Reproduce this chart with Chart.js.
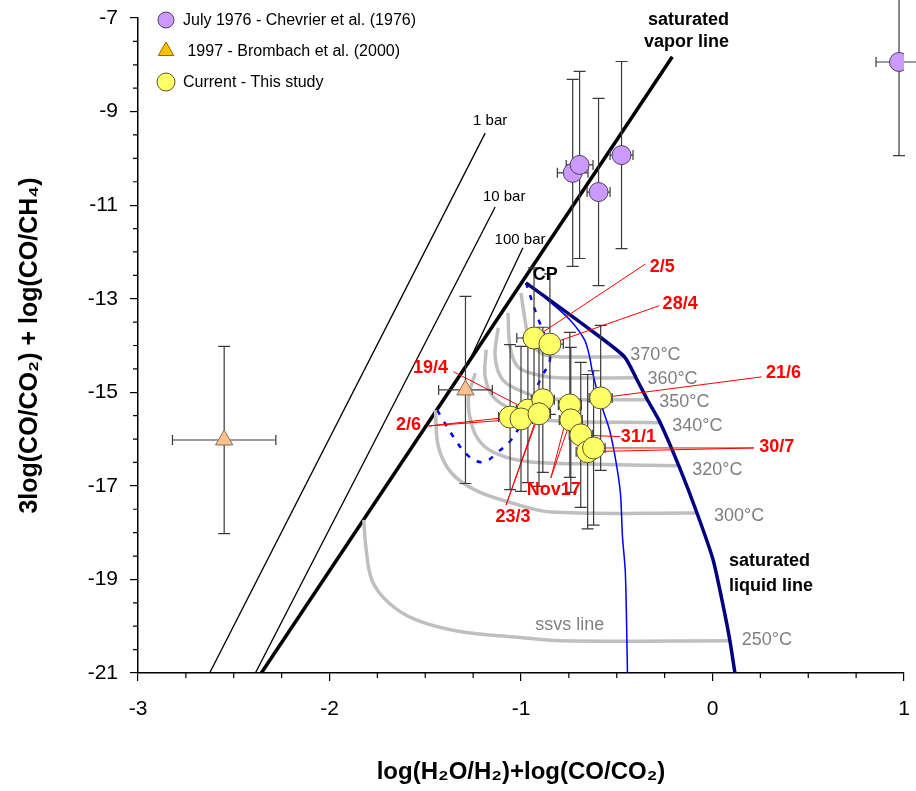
<!DOCTYPE html>
<html>
<head>
<meta charset="utf-8">
<script src="https://cdn.jsdelivr.net/npm/chart.js@4.4.1/dist/chart.umd.min.js"></script>
<style>
  html, body { margin: 0; padding: 0; background: #fff; }
  #wrap { width: 916px; height: 791px; position: relative; }
</style>
</head>
<body>
<div id="wrap"><canvas id="gasChart"></canvas></div>
<script>
// July 1976 - Chevrier et al.
const chevX = [-0.730, -0.694, -0.595, -0.475, 0.974];
const chevY = [-10.31, -10.14, -10.72, -9.93, -7.94];
const chevErrX = [0.08, 0.07, 0.06, 0.06, 0.12];
const chevErrY = [2, 2, 2, 2, 2];

// 1997 - Brombach et al.
const bromX = [-2.55, -1.29];
const bromY = [-16.02, -14.95];
const bromErrX = [0.27, 0.14];
const bromErrY = [2, 2];

// this study (drawn in this order, later ones on top)
const curDate = ['19/4', '23/3', '2/6', '2/6', '23/3', 'Nov17', 'Nov17', '21/6', '31/1', '30/7', '30/7', '2/5', '28/4'];
const curX = [-0.964, -0.886, -1.057, -1.000, -0.906, -0.745, -0.740, -0.584, -0.688, -0.652, -0.621, -0.932, -0.849];
const curY = [-15.38, -15.16, -15.53, -15.57, -15.46, -15.27, -15.59, -15.12, -15.91, -16.27, -16.19, -13.84, -13.97];
const curErrX = [0.06, 0.06, 0.06, 0.06, 0.06, 0.06, 0.06, 0.06, 0.06, 0.06, 0.06, 0.09, 0.07];
const curErrY = [1.55, 1.55, 1.55, 1.55, 1.55, 1.55, 1.55, 1.55, 1.55, 1.65, 1.65, 1.5, 1.5];

// date labels and where their leader lines start
const dateNames = ['2/5', '28/4', '19/4', '2/6', '23/3', 'Nov17', '21/6', '31/1', '30/7'];
const dateTextX = [-0.262, -0.169, -1.473, -1.587, -1.042, -0.829, 0.371, -0.387, 0.335];
const dateTextY = [-12.32, -13.11, -14.48, -15.70, -17.66, -17.09, -14.59, -15.95, -16.17];
const leadX = [-0.351, -0.278, -1.353, -1.483, -1.078, -0.844, 0.257, -0.481, 0.216];
const leadY = [-12.26, -13.15, -14.56, -15.72, -17.41, -16.83, -14.67, -15.95, -16.19];

// pressure lines and saturated vapor line
const bar1X = [-2.626, -1.187];
const bar1Y = [-21, -9.46];
const bar10X = [-2.387, -1.135];
const bar10Y = [-21, -11.04];
const bar100X = [-2.356, -1.275, -0.990];
const bar100Y = [-21, -14.37, -11.91];
const vapX = [-2.356, -0.210];
const vapY = [-21, -7.83];

// saturated liquid line
const liqX = [-0.974, -0.636, -0.460, -0.397, -0.340, -0.273, -0.174, -0.081, 0.003, 0.060, 0.091, 0.117];
const liqY = [-12.66, -13.67, -14.24, -14.71, -15.16, -15.65, -16.59, -17.58, -18.58, -19.65, -20.31, -21.0];

// blue solid and dashed curves
const blueX = [-0.974, -0.860, -0.745, -0.668, -0.642, -0.626, -0.584, -0.538, -0.506, -0.481, -0.470, -0.455, -0.444];
const blueY = [-12.66, -13.03, -13.45, -13.88, -14.24, -14.59, -15.23, -15.80, -16.44, -17.15, -18.09, -18.86, -21.0];
const dashX = [-0.974, -0.922, -0.870, -0.849, -0.896, -0.932, -0.990, -1.052, -1.119, -1.197, -1.275, -1.353, -1.416, -1.452];
const dashY = [-12.66, -13.30, -13.88, -14.31, -14.69, -15.06, -15.59, -16.02, -16.27, -16.49, -16.36, -15.95, -15.53, -15.27];

// isotherms
const iso370X = [-1.000, -0.979, -0.953, -0.886, -0.808, -0.460];
const iso370Y = [-12.88, -13.45, -13.92, -14.18, -14.24, -14.24];
const iso360X = [-1.068, -1.057, -1.016, -0.912, -0.808, -0.397];
const iso360Y = [-13.30, -14.03, -14.46, -14.63, -14.69, -14.69];
const iso350X = [-1.119, -1.135, -1.094, -0.979, -0.860, -0.340];
const iso350Y = [-13.62, -14.24, -14.74, -15.01, -15.14, -15.16];
const iso340X = [-1.182, -1.187, -1.145, -1.042, -0.886, -0.273];
const iso340Y = [-14.09, -14.67, -15.10, -15.38, -15.59, -15.65];
const iso320X = [-1.239, -1.275, -1.249, -1.187, -1.083, -0.948, -0.704, -0.174];
const iso320Y = [-14.59, -15.16, -15.80, -16.17, -16.38, -16.49, -16.53, -16.57];
const iso300X = [-1.447, -1.431, -1.364, -1.239, -1.052, -0.844, -0.081];
const iso300Y = [-15.38, -16.17, -16.72, -17.09, -17.36, -17.56, -17.58];
const iso250X = [-1.821, -1.810, -1.779, -1.691, -1.551, -1.312, -1.031, -0.792, 0.091];
const iso250Y = [-17.73, -18.30, -19.01, -19.50, -19.86, -20.12, -20.23, -20.31, -20.31];

const tempNames = ['370°C', '360°C', '350°C', '340°C', '320°C', '300°C', '250°C'];
const tempLabelX = [-0.429, -0.340, -0.278, -0.210, -0.106, 0.008, 0.153];
const tempLabelY = [-14.20, -14.71, -15.21, -15.72, -16.66, -17.64, -20.29];

const barNames = ['1 bar', '10 bar', '100 bar'];
const barLabelX = [-1.161, -1.088, -1.005];
const barLabelY = [-9.20, -10.82, -11.74];

const FONT = '"Liberation Sans", Arial, sans-serif';

function pts(xs, ys) {
  return xs.map((x, i) => ({ x, y: ys[i] }));
}

function curve(xs, ys, style) {
  return Object.assign({
    data: pts(xs, ys),
    showLine: true,
    pointRadius: 0,
    pointHoverRadius: 0,
    fill: false
  }, style);
}

const isoSets = [
  [iso370X, iso370Y], [iso360X, iso360Y], [iso350X, iso350Y], [iso340X, iso340Y],
  [iso320X, iso320Y], [iso300X, iso300Y], [iso250X, iso250Y]
];

const leaderSets = curX.map((px, i) => {
  const k = dateNames.indexOf(curDate[i]);
  return curve([leadX[k], px], [leadY[k], curY[i]], { borderColor: '#ff0000', borderWidth: 1, order: 1 });
});

const datasets = [
  {
    label: 'July 1976 - Chevrier et al. (1976)',
    data: pts(chevX, chevY),
    errX: chevErrX, errY: chevErrY,
    pointStyle: 'circle', pointRadius: 9.5,
    backgroundColor: '#cc99ff', borderColor: '#4d3f5e', borderWidth: 1,
    order: 0
  },
  {
    label: ' 1997 - Brombach et al. (2000)',
    data: pts(bromX, bromY),
    errX: bromErrX, errY: bromErrY,
    pointStyle: 'triangle', pointRadius: 10,
    backgroundColor: '#fac090', borderColor: '#8c6b4f', borderWidth: 1,
    order: 0
  },
  {
    label: 'Current - This study',
    data: pts(curX, curY),
    errX: curErrX, errY: curErrY,
    pointStyle: 'circle', pointRadius: 11,
    backgroundColor: '#ffff66', borderColor: '#55552e', borderWidth: 1,
    order: 0
  },
  ...leaderSets,
  curve(liqX, liqY, { borderColor: '#000080', borderWidth: 3.5, tension: 0.2, order: 2 }),
  curve(blueX, blueY, { borderColor: '#0000ff', borderWidth: 1.5, tension: 0.3, order: 3 }),
  curve(dashX, dashY, { borderColor: '#0000ff', borderWidth: 2.5, borderDash: [5, 8], tension: 0.4, order: 3 }),
  ...isoSets.map(([xs, ys]) => curve(xs, ys, { borderColor: '#bfbfbf', borderWidth: 3.5, tension: 0.35, order: 4 })),
  curve(vapX, vapY, { borderColor: '#000', borderWidth: 3.5, order: 5 }),
  curve(bar1X, bar1Y, { borderColor: '#000', borderWidth: 1.3, order: 6 }),
  curve(bar10X, bar10Y, { borderColor: '#000', borderWidth: 1.3, order: 6 }),
  curve(bar100X, bar100Y, { borderColor: '#000', borderWidth: 1.3, order: 6 })
];

const errorBars = {
  id: 'errorBars',
  beforeDatasetDraw(chart, args) {
    const ds = chart.data.datasets[args.index];
    if (!ds.errX) return;
    const { ctx, scales: { x, y } } = chart;
    ctx.save();
    ctx.strokeStyle = '#3a3a3a';
    ctx.lineWidth = 1.2;
    ds.data.forEach((p, i) => {
      const px = x.getPixelForValue(p.x), py = y.getPixelForValue(p.y);
      const x0 = x.getPixelForValue(p.x - ds.errX[i]), x1 = x.getPixelForValue(p.x + ds.errX[i]);
      const y0 = y.getPixelForValue(p.y + ds.errY[i]), y1 = y.getPixelForValue(p.y - ds.errY[i]);
      ctx.beginPath();
      ctx.moveTo(x0, py); ctx.lineTo(x1, py);
      ctx.moveTo(x0, py - 5); ctx.lineTo(x0, py + 5);
      ctx.moveTo(x1, py - 5); ctx.lineTo(x1, py + 5);
      ctx.moveTo(px, y0); ctx.lineTo(px, y1);
      ctx.moveTo(px - 6, y0); ctx.lineTo(px + 6, y0);
      ctx.moveTo(px - 6, y1); ctx.lineTo(px + 6, y1);
      ctx.stroke();
    });
    ctx.restore();
  }
};

const minorTicks = {
  id: 'minorTicks',
  afterDraw(chart) {
    const { ctx, scales: { x, y }, chartArea } = chart;
    ctx.save();
    ctx.strokeStyle = '#000';
    ctx.lineWidth = 1.2;
    ctx.beginPath();
    for (let v = -3; v <= 1.001; v += 0.25) {
      if (Math.abs(v - Math.round(v)) < 0.01) continue;
      const px = x.getPixelForValue(v);
      ctx.moveTo(px, chartArea.bottom); ctx.lineTo(px, chartArea.bottom + 5);
    }
    for (let v = -21; v <= -7.001; v += 0.5) {
      if (Math.abs((v + 21) / 2 - Math.round((v + 21) / 2)) < 0.01) continue;
      const py = y.getPixelForValue(v);
      ctx.moveTo(chartArea.left, py); ctx.lineTo(chartArea.left - 5, py);
    }
    ctx.stroke();
    ctx.restore();
  }
};

const notes = {
  id: 'notes',
  afterDatasetsDraw(chart) {
    const { ctx, scales: { x, y } } = chart;
    const put = (str, vx, vy, align, font, color) => {
      ctx.save();
      ctx.font = font;
      ctx.fillStyle = color;
      ctx.textAlign = align;
      ctx.textBaseline = 'middle';
      ctx.fillText(str, x.getPixelForValue(vx), y.getPixelForValue(vy));
      ctx.restore();
    };
    tempNames.forEach((t, i) => put(t, tempLabelX[i], tempLabelY[i], 'left', '18px ' + FONT, '#808080'));
    put('ssvs line', -0.745, -19.97, 'center', '18px ' + FONT, '#808080');
    dateNames.forEach((t, i) => put(t, dateTextX[i], dateTextY[i], 'center', 'bold 18px ' + FONT, '#ff0000'));
    barNames.forEach((t, i) => put(t, barLabelX[i], barLabelY[i], 'center', '15px ' + FONT, '#000'));
    put('CP', -0.938, -12.49, 'left', 'bold 18px ' + FONT, '#000');
    put('saturated', 0.086, -7.04, 'right', 'bold 18px ' + FONT, '#000');
    put('vapor line', 0.086, -7.51, 'right', 'bold 18px ' + FONT, '#000');
    put('saturated', 0.086, -18.60, 'left', 'bold 18px ' + FONT, '#000');
    put('liquid line', 0.086, -19.14, 'left', 'bold 18px ' + FONT, '#000');
  }
};

// legend drawn inside the plot, top left
const insideLegend = {
  id: 'insideLegend',
  afterDraw(chart) {
    const ctx = chart.ctx;
    const rows = [
      { y: 20, style: 'circle', r: 8, fill: '#cc99ff', stroke: '#4d3f5e' },
      { y: 51, style: 'triangle', r: 9, fill: '#ffc000', stroke: '#8c6b00' },
      { y: 82, style: 'circle', r: 9, fill: '#ffff66', stroke: '#55552e' }
    ];
    ctx.save();
    rows.forEach((row, i) => {
      ctx.fillStyle = row.fill;
      ctx.strokeStyle = row.stroke;
      ctx.lineWidth = 1;
      Chart.helpers.drawPoint(ctx, { pointStyle: row.style, radius: row.r, rotation: 0, borderWidth: 1 }, 166, row.y);
      ctx.fillStyle = '#000';
      ctx.font = '16px ' + FONT;
      ctx.textAlign = 'left';
      ctx.textBaseline = 'middle';
      ctx.fillText(chart.data.datasets[i].label, 183, row.y + 1);
    });
    ctx.restore();
  }
};

new Chart(document.getElementById('gasChart'), {
  type: 'scatter',
  data: { datasets },
  options: {
    responsive: true,
    maintainAspectRatio: false,
    animation: false,
    layout: { padding: { left: 0, right: 2, top: 18, bottom: 0 } },
    plugins: {
      legend: { display: false },
      tooltip: { enabled: false }
    },
    scales: {
      x: {
        type: 'linear',
        min: -3,
        max: 1,
        afterFit(scale) {
          scale.height = 118;
          scale.paddingLeft = 0;
          scale.paddingRight = 0;
        },
        ticks: { stepSize: 1, color: '#000', padding: 16, font: { size: 21, family: FONT } },
        grid: { display: true, drawOnChartArea: false, drawTicks: true, tickLength: 8, color: '#000', lineWidth: 1.2 },
        border: { display: true, color: '#000', width: 1.5 },
        title: {
          display: true,
          text: 'log(H₂O/H₂)+log(CO/CO₂)',
          color: '#000',
          font: { size: 24, weight: 'bold', family: FONT },
          padding: { top: 0, bottom: 4 }
        }
      },
      y: {
        type: 'linear',
        min: -21,
        max: -7,
        afterFit(scale) {
          scale.width = 138;
          scale.paddingTop = 0;
          scale.paddingBottom = 0;
        },
        ticks: { stepSize: 2, color: '#000', padding: 12, font: { size: 21, family: FONT } },
        grid: { display: true, drawOnChartArea: false, drawTicks: true, tickLength: 8, color: '#000', lineWidth: 1.2 },
        border: { display: true, color: '#000', width: 1.5 },
        title: {
          display: true,
          text: '3log(CO/CO₂) + log(CO/CH₄)',
          color: '#000',
          font: { size: 25, weight: 'bold', family: FONT },
          padding: { top: 15, bottom: 0 }
        }
      }
    }
  },
  plugins: [errorBars, minorTicks, notes, insideLegend]
});
</script>
</body>
</html>
